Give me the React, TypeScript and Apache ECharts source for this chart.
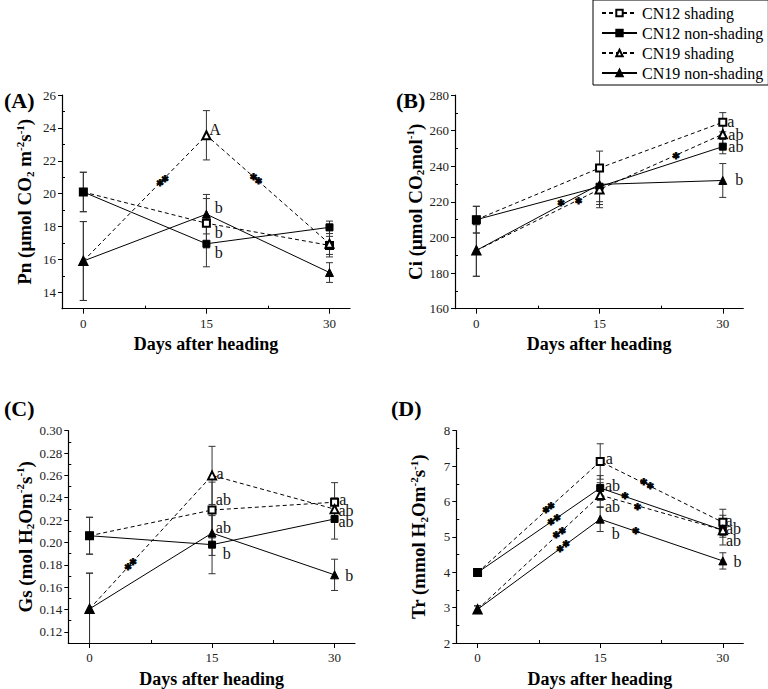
import React, { useEffect, useRef } from 'react';
import * as echarts from 'echarts';

// ---------- data ----------
const days = [0, 15, 30];
const seriesNames = ['CN12 shading', 'CN12 non-shading', 'CN19 shading', 'CN19 non-shading'];
const xTicks = [0, 15, 30];
const xMinorTicks = [7.5, 22.5];

// (A) Pn
const pnCN12S = [20.1, 18.2, 16.85];
const pnCN12N = [20.1, 16.95, 17.95];
const pnCN19S = [15.9, 23.55, 16.95];
const pnCN19N = [15.9, 18.75, 15.2];
const pnErrCN12S = [1.2, 1.5, 0.55];
const pnErrCN12N = [1.2, 1.4, 0.38];
const pnErrCN19S = [2.4, 1.5, 0.8];
const pnErrCN19N = [2.4, 1.2, 0.6];
const pnTicks = [14, 16, 18, 20, 22, 24, 26];
const pnMinorTicks = [15, 17, 19, 21, 23, 25];
const pnLetters: [number, number, string][] = [[16.06, 23.91, 'A'], [16.5, 19.14, 'b'], [16.5, 17.64, 'b'], [16.5, 16.42, 'b']];
const pnStars: [number, number][] = [[9.35, 20.62], [9.96, 20.9], [20.73, 21.02], [21.34, 20.74]];

// (B) Ci
const ciCN12S = [210, 239, 264.7];
const ciCN12N = [210, 228.5, 251];
const ciCN19S = [192.7, 227, 258];
const ciCN19N = [192.7, 229.8, 232];
const ciErrCN12S = [7.5, 9.5, 5.4];
const ciErrCN12N = [7.5, 10, 4];
const ciErrCN19S = [14.5, 10.3, 6];
const ciErrCN19N = [14.5, 9.7, 9.5];
const ciTicks = [160, 180, 200, 220, 240, 260, 280];
const ciMinorTicks = [170, 190, 210, 230, 250, 270];
const ciLetters: [number, number, string][] = [[30.98, 265.2, 'a'], [31.6, 258.1, 'ab'], [31.6, 251, 'ab'], [32.0, 232.3, 'b']];
const ciStars: [number, number][] = [[10.32, 219.5], [12.43, 220.5], [24.3, 245.7]];

// (C) Gs
const gsCN12S = [0.206, 0.229, 0.236];
const gsCN12N = [0.206, 0.198, 0.221];
const gsCN19S = [0.1405, 0.26, 0.2298];
const gsCN19N = [0.1405, 0.2084, 0.171];
const gsErrCN12S = [0.0165, 0.025, 0.0175];
const gsErrCN12N = [0.0165, 0.026, 0.018];
const gsErrCN19S = [0.032, 0.026, 0.01];
const gsErrCN19N = [0.032, 0.02, 0.014];
const gsTicks = [0.12, 0.14, 0.16, 0.18, 0.2, 0.22, 0.24, 0.26, 0.28, 0.3];
const gsMinorTicks = [0.11, 0.13, 0.15, 0.17, 0.19, 0.21, 0.23, 0.25, 0.27, 0.29];
const gsLetters: [number, number, string][] = [
  [15.98, 0.262, 'a'], [16.38, 0.2381, 'ab'], [16.38, 0.2138, 'ab'], [16.79, 0.1905, 'b'],
  [31.0, 0.2381, 'a'], [31.4, 0.2286, 'ab'], [31.4, 0.2188, 'ab'], [31.8, 0.1703, 'b'],
];
const gsStars: [number, number][] = [[4.72, 0.178], [5.33, 0.1822]];

// (D) Tr
const trCN12S = [3.99, 7.13, 5.41];
const trCN12N = [3.99, 6.38, 5.19];
const trCN19S = [2.95, 6.18, 5.19];
const trCN19N = [2.95, 5.5, 4.32];
const trErrCN12S = [0.08, 0.5, 0.37];
const trErrCN12N = [0.08, 0.35, 0.2];
const trErrCN19S = [0.1, 0.35, 0.42];
const trErrCN19N = [0.1, 0.35, 0.23];
const trTicks = [2, 3, 4, 5, 6, 7, 8];
const trMinorTicks = [2.5, 3.5, 4.5, 5.5, 6.5, 7.5];
const trLetters: [number, number, string][] = [
  [16.1, 7.22, 'a'], [16.5, 6.44, 'ab'], [16.5, 5.86, 'ab'], [16.9, 5.09, 'b'],
  [30.77, 5.47, 'a'], [31.3, 5.23, 'ab'], [31.3, 4.91, 'ab'], [31.78, 4.29, 'b'],
];
const trStars: [number, number][] = [
  [8.36, 5.75], [8.97, 5.88], [8.97, 5.43], [9.71, 5.54], [9.62, 5.04], [10.35, 5.16],
  [10.07, 4.66], [10.81, 4.8], [20.34, 6.54], [21.11, 6.44], [18.02, 6.16], [19.56, 5.83], [19.36, 5.16],
];

// ---------- styling ----------
const FONT = "'Liberation Serif', 'Times New Roman', Times, serif";
const symbols = ['emptyRect', 'rect', 'emptyTriangle', 'triangle'];
const symbolSizes = [7, 7, 8, 8];
const dashed = [true, false, true, false];

const richName = {
  b: { fontSize: 19, fontWeight: 'bold', fontFamily: FONT, color: '#000', lineHeight: 21 },
  sub: { fontSize: 11, fontWeight: 'bold', fontFamily: FONT, color: '#000', lineHeight: 9, verticalAlign: 'bottom' },
  sup: { fontSize: 11, fontWeight: 'bold', fontFamily: FONT, color: '#000', lineHeight: 10, verticalAlign: 'top' },
};

interface PanelCfg {
  grid: { left: number; top: number; width: number; height: number };
  yMin: number; yMax: number; yTicks: number[]; yMinor: number[]; decimals: number;
  yName: string; yNameGap: number; xNameGap: number;
  values: number[][]; errors: number[][];
  letters: [number, number, string][]; stars: [number, number][];
}

const panels: PanelCfg[] = [
  {
    grid: { left: 62, top: 95, width: 288, height: 213.7 },
    yMin: 13, yMax: 26, yTicks: pnTicks, yMinor: pnMinorTicks, decimals: 0,
    yName: '{b|Pn (μmol CO}{sub|2}{b| m}{sup|-2}{b|s}{sup|-1}{b|)}', yNameGap: 27, xNameGap: 26,
    values: [pnCN12S, pnCN12N, pnCN19S, pnCN19N],
    errors: [pnErrCN12S, pnErrCN12N, pnErrCN19S, pnErrCN19N],
    letters: pnLetters, stars: pnStars,
  },
  {
    grid: { left: 455, top: 95, width: 288.3, height: 213.7 },
    yMin: 160, yMax: 280, yTicks: ciTicks, yMinor: ciMinorTicks, decimals: 0,
    yName: '{b|Ci (μmol CO}{sub|2}{b|mol}{sup|-1}{b|)}', yNameGap: 28, xNameGap: 26,
    values: [ciCN12S, ciCN12N, ciCN19S, ciCN19N],
    errors: [ciErrCN12S, ciErrCN12N, ciErrCN19S, ciErrCN19N],
    letters: ciLetters, stars: ciStars,
  },
  {
    grid: { left: 68.3, top: 430.7, width: 286.7, height: 213.3 },
    yMin: 0.11, yMax: 0.3, yTicks: gsTicks, yMinor: gsMinorTicks, decimals: 2,
    yName: '{b|Gs (mol H}{sub|2}{b|Om}{sup|-2}{b|s}{sup|-1}{b|)}', yNameGap: 31, xNameGap: 27,
    values: [gsCN12S, gsCN12N, gsCN19S, gsCN19N],
    errors: [gsErrCN12S, gsErrCN12N, gsErrCN19S, gsErrCN19N],
    letters: gsLetters, stars: gsStars,
  },
  {
    grid: { left: 456.3, top: 430.7, width: 287, height: 213.3 },
    yMin: 2, yMax: 8, yTicks: trTicks, yMinor: trMinorTicks, decimals: 0,
    yName: '{b|Tr (mmol H}{sub|2}{b|Om}{sup|-2}{b|s}{sup|-1}{b|)}', yNameGap: 27, xNameGap: 27,
    values: [trCN12S, trCN12N, trCN19S, trCN19N],
    errors: [trErrCN12S, trErrCN12N, trErrCN19S, trErrCN19N],
    letters: trLetters, stars: trStars,
  },
];

function textSeries(xi: number, yi: number, pts: [number, number][], texts: string[], style: any, dy: number) {
  return {
    type: 'custom', xAxisIndex: xi, yAxisIndex: yi, z: 5, silent: true, clip: false,
    data: pts.map((pt) => [pt[0], pt[1]]), encode: { x: 0, y: 1 },
    renderItem: (params: any, api: any) => {
      const c = api.coord([api.value(0), api.value(1)]);
      return {
        type: 'text', x: c[0], y: c[1] + dy,
        style: { text: texts[params.dataIndex], align: 'center', verticalAlign: 'middle', fontFamily: FONT, ...style },
      };
    },
  };
}

function buildOption() {
  const grids: any[] = [];
  const xAxes: any[] = [];
  const yAxes: any[] = [];
  const series: any[] = [];

  panels.forEach((p, gi) => {
    grids.push({ ...p.grid, containLabel: false });
    const xMajor = xAxes.length;
    xAxes.push({
      gridIndex: gi, type: 'value', min: -2.6, max: 32.5, position: 'bottom',
      axisLine: { show: true, onZero: false, lineStyle: { color: '#000', width: 1.2 } },
      axisTick: { show: true, inside: false, length: 5, customValues: xTicks, lineStyle: { color: '#000', width: 1 } },
      axisLabel: { show: true, customValues: xTicks, fontSize: 13, fontFamily: FONT, color: '#222', margin: 8 },
      splitLine: { show: false },
      name: 'Days after heading', nameLocation: 'middle', nameGap: p.xNameGap,
      nameTextStyle: { fontSize: 18, fontWeight: 'bold', fontFamily: FONT, color: '#000' },
    });
    xAxes.push({
      gridIndex: gi, type: 'value', min: -2.6, max: 32.5, position: 'bottom',
      axisLine: { show: false, onZero: false },
      axisTick: { show: true, inside: true, length: 3, customValues: xMinorTicks, lineStyle: { color: '#000', width: 1 } },
      axisLabel: { show: false }, splitLine: { show: false },
    });
    const yMajor = yAxes.length;
    yAxes.push({
      gridIndex: gi, type: 'value', min: p.yMin, max: p.yMax, position: 'left',
      axisLine: { show: true, onZero: false, lineStyle: { color: '#000', width: 1.2 } },
      axisTick: { show: true, inside: false, length: 4, customValues: p.yTicks, lineStyle: { color: '#000', width: 1 } },
      axisLabel: {
        show: true, customValues: p.yTicks, fontSize: 13, fontFamily: FONT, color: '#222', margin: 6,
        formatter: (v: number) => v.toFixed(p.decimals),
      },
      splitLine: { show: false },
      name: p.yName, nameLocation: 'middle', nameRotate: 90, nameGap: p.yNameGap,
      nameTextStyle: { rich: richName },
    });
    yAxes.push({
      gridIndex: gi, type: 'value', min: p.yMin, max: p.yMax, position: 'left',
      axisLine: { show: false, onZero: false },
      axisTick: { show: true, inside: true, length: 3, customValues: p.yMinor, lineStyle: { color: '#000', width: 1 } },
      axisLabel: { show: false }, splitLine: { show: false },
    });

    // error bars
    const ebData: number[][] = [];
    p.values.forEach((vals, si) => {
      vals.forEach((v, i) => {
        ebData.push([days[i], v - p.errors[si][i], v + p.errors[si][i]]);
      });
    });
    series.push({
      type: 'custom', xAxisIndex: xMajor, yAxisIndex: yMajor, clip: true, z: 1, silent: true,
      data: ebData, encode: { x: 0, y: [1, 2] },
      renderItem: (_params: any, api: any) => {
        const x = api.value(0);
        const lo = api.coord([x, api.value(1)]);
        const hi = api.coord([x, api.value(2)]);
        const w = 3.5;
        const st = { stroke: '#333', lineWidth: 1 };
        return {
          type: 'group',
          children: [
            { type: 'line', shape: { x1: hi[0], y1: hi[1], x2: lo[0], y2: lo[1] }, style: st },
            { type: 'line', shape: { x1: hi[0] - w, y1: hi[1], x2: hi[0] + w, y2: hi[1] }, style: st },
            { type: 'line', shape: { x1: lo[0] - w, y1: lo[1], x2: lo[0] + w, y2: lo[1] }, style: st },
          ],
        };
      },
    });

    // lines
    p.values.forEach((vals, si) => {
      series.push({
        type: 'line', name: seriesNames[si], xAxisIndex: xMajor, yAxisIndex: yMajor, z: 3,
        data: vals.map((v, i) => [days[i], v]),
        symbol: symbols[si], symbolSize: symbolSizes[si], showSymbol: true,
        lineStyle: { color: '#000', width: 1, type: dashed[si] ? [4, 3] : 'solid' },
        itemStyle: { color: '#000', borderColor: '#000', borderWidth: 1 },
      });
    });

    // significance letters
    series.push(textSeries(xMajor, yMajor,
      p.letters.map((l) => [l[0], l[1]] as [number, number]), p.letters.map((l) => l[2]),
      { fontSize: 16, fill: '#111' }, 0));
    // asterisks
    series.push(textSeries(xMajor, yMajor, p.stars, p.stars.map(() => '✱'),
      { fontSize: 9, fontFamily: "'DejaVu Sans', sans-serif", fill: '#000', stroke: '#000', lineWidth: 0.8 }, 0));
  });

  const panelLabels = [
    { text: '(A)', x: 4, y: 100 },
    { text: '(B)', x: 396, y: 100 },
    { text: '(C)', x: 4, y: 408 },
    { text: '(D)', x: 391, y: 408 },
  ];

  return {
    animation: false,
    backgroundColor: '#fff',
    grid: grids,
    xAxis: xAxes,
    yAxis: yAxes,
    series,
    legend: {
      data: seriesNames, orient: 'vertical', left: 593, top: 0,
      itemWidth: 35, itemHeight: 8, itemGap: 4,
      padding: [5, 5, 4, 8],
      borderColor: '#000', borderWidth: 1,
      textStyle: { fontSize: 16, fontFamily: FONT, color: '#000' },
    },
    graphic: panelLabels.map((l) => ({
      type: 'text', x: l.x, y: l.y,
      style: { text: l.text, fontSize: 22, fontWeight: 'bold', fontFamily: FONT, fill: '#000', verticalAlign: 'middle' },
    })),
  };
}

export default function App() {
  const ref = useRef<HTMLDivElement>(null);
  useEffect(() => {
    document.body.style.margin = '0';
    if (!ref.current) return;
    const chart = echarts.init(ref.current, undefined, { renderer: 'svg' });
    chart.setOption(buildOption() as any);
    return () => chart.dispose();
  }, []);
  return <div ref={ref} style={{ position: 'fixed', left: 0, top: 0, width: 768, height: 689 }} />;
}
